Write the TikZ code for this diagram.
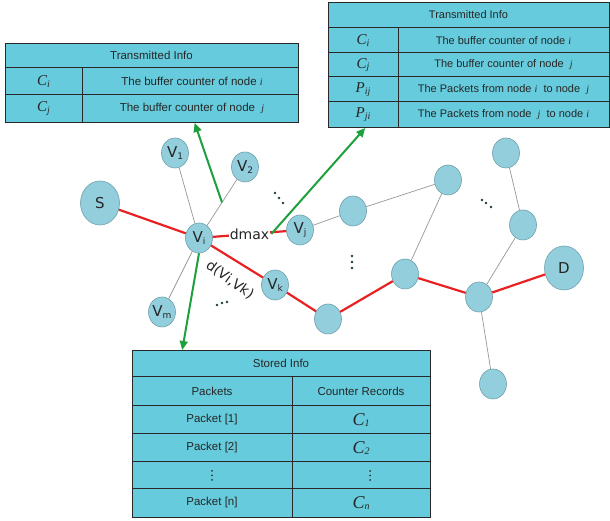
\documentclass[tikz,border=0pt]{standalone}
\usepackage{fontspec}
\setmainfont{Liberation Sans}
\newfontfamily\verd{DejaVu Sans}
\newfontfamily\tms{Liberation Serif}
\usetikzlibrary{shapes.geometric,arrows.meta,calc}
\definecolor{tabfill}{RGB}{102,204,221}
\definecolor{nodefill}{RGB}{146,206,220}
\definecolor{nodeborder}{RGB}{110,160,172}
\definecolor{edgegray}{RGB}{150,150,150}
\definecolor{edgered}{RGB}{232,34,34}
\definecolor{arrowgreen}{RGB}{30,160,60}
\definecolor{tabline}{RGB}{40,40,40}
\definecolor{dotcol}{RGB}{30,60,60}
\newcommand\mysubV[1]{V\raisebox{-2pt}{\fontsize{9}{9}\selectfont #1}}
\newcommand\mathCC[3]{{\tms\itshape\fontsize{#3}{#3}\selectfont #1\raisebox{-1.5pt}{\fontsize{10}{10}\selectfont #2}}}
\newcommand\itl[1]{{\tms\itshape\fontsize{10}{10}\selectfont #1}}
\tikzset{
  vtx/.style={ellipse, draw=nodeborder, fill=nodefill, minimum width=27pt, minimum height=30pt, inner sep=0pt, line width=0.6pt, font=\verd\fontsize{15}{15}\selectfont, text=black!85},
  bigvtx/.style={vtx, minimum width=39pt, minimum height=44pt},
  grayedge/.style={draw=edgegray, line width=0.7pt},
  rededge/.style={draw=edgered, line width=2.2pt},
  greenarrow/.style={draw=arrowgreen, line width=2pt, -{Triangle[length=9pt,width=8pt]}},
  tab/.style={rectangle, draw=tabline, fill=tabfill, line width=1pt, anchor=north west, inner sep=0pt},
  tabrule/.style={draw=tabline, line width=1pt},
  cell/.style={font=\fontsize{11.5}{13}\selectfont, inner sep=0pt, text=black!85},
  cellsm/.style={font=\fontsize{11}{13}\selectfont, inner sep=0pt, text=black!85},
  dotmark/.style={circle, fill=dotcol, inner sep=0pt, minimum size=2.6pt},
  tabdot/.style={circle, fill=black!80, inner sep=0pt, minimum size=2pt},
  lbl/.style={font=\verd\fontsize{14}{14}\selectfont, inner sep=1pt, text=black!85}
}
\begin{document}
\begin{tikzpicture}[x=1pt,y=1pt]
\useasboundingbox (0,0) rectangle (610,521);

% ---------- tables ----------
% left table
\node[tab, minimum width=293pt, minimum height=79pt] (tl) at (5,478) {};
\draw[tabrule] (5,453) -- (298,453);
\draw[tabrule] (5,426) -- (298,426);
\draw[tabrule] (82,453) -- (82,399);
\node[cell] (tlh) at (151.5,465.5) {Transmitted Info};
\node[cell] (tl1a) at (43.5,439.5) {\mathCC{C}{i}{15}};
\node[cell] (tl1b) at (192,439.5) {The buffer counter of node\ \itl{i}};
\node[cell] (tl2a) at (43.5,412.5) {\mathCC{C}{j}{15}};
\node[cell] (tl2b) at (192,412.5) {The buffer counter of node\ \ \itl{j}};

% right table
\node[tab, minimum width=281pt, minimum height=125pt] (tr) at (328,519) {};
\draw[tabrule] (328,493) -- (609,493);
\draw[tabrule] (328,468) -- (609,468);
\draw[tabrule] (328,444) -- (609,444);
\draw[tabrule] (328,419) -- (609,419);
\draw[tabrule] (398,493) -- (398,394);
\node[cellsm] (trh) at (468.5,506) {Transmitted Info};
\node[cellsm] (tr1a) at (363,480.5) {\mathCC{C}{i}{15}};
\node[cellsm] (tr1b) at (503.5,480.5) {The buffer counter of node\ \itl{i}};
\node[cellsm] (tr2a) at (363,456) {\mathCC{C}{j}{15}};
\node[cellsm] (tr2b) at (503.5,456) {The buffer counter of node\ \ \itl{j}};
\node[cellsm] (tr3a) at (363,431.5) {\mathCC{P}{ij}{15}};
\node[cellsm] (tr3b) at (503.5,431.5) {The Packets from node\ \itl{i}\ \ to node\ \ \itl{j}};
\node[cellsm] (tr4a) at (363,406.5) {\mathCC{P}{ji}{15}};
\node[cellsm] (tr4b) at (503.5,406.5) {The Packets from node\ \ \itl{j}\ \ to node\ \itl{i}};

% bottom table
\node[tab, minimum width=298pt, minimum height=167pt] (tb) at (132,171) {};
\draw[tabrule] (132,144) -- (430,144);
\draw[tabrule] (132,115) -- (430,115);
\draw[tabrule] (132,87) -- (430,87);
\draw[tabrule] (132,59) -- (430,59);
\draw[tabrule] (132,32) -- (430,32);
\draw[tabrule] (292,144) -- (292,4);
\node[cell] (tbh) at (281,157.5) {Stored Info};
\node[cell] (tb0a) at (212,129.5) {Packets};
\node[cell] (tb0b) at (361,129.5) {Counter Records};
\node[cell] (tb1a) at (212,101) {Packet [1]};
\node[cell] (tb1b) at (361,101) {\mathCC{C}{1}{18}};
\node[cell] (tb2a) at (212,73) {Packet [2]};
\node[cell] (tb2b) at (361,73) {\mathCC{C}{2}{18}};
\foreach \y [count=\k] in {50,45.5,41} {
  \node[tabdot] (tdl\k) at (212,\y) {};
  \node[tabdot] (tdr\k) at (370,\y) {};
}
\node[cell] (tb4a) at (212,18) {Packet [n]};
\node[cell] (tb4b) at (361,18) {\mathCC{C}{n}{18}};

% ---------- graph nodes ----------
\node[bigvtx] (S) at (100,318) {S};
\node[vtx] (V1) at (175,368) {\mysubV{1}};
\node[vtx] (V2) at (245,354) {\mysubV{2}};
\node[vtx] (Vi) at (199,283) {\mysubV{i}};
\node[vtx] (Vj) at (300,291) {\mysubV{j}};
\node[vtx] (Vk) at (275,236) {\mysubV{k}};
\node[vtx] (Vm) at (162,209) {\mysubV{m}};
\node[vtx] (n1) at (353,310) {};
\node[vtx] (n2) at (448,341) {};
\node[vtx] (n3) at (506,368) {};
\node[vtx] (n4) at (523,296) {};
\node[bigvtx] (D) at (564,253) {D};
\node[vtx] (n5) at (479,224) {};
\node[vtx] (n6) at (405,247) {};
\node[vtx] (n7) at (328,202) {};
\node[vtx] (n8) at (493,137) {};

% ---------- edges ----------
\draw[grayedge] (Vi) -- (V1);
\draw[grayedge] (Vi) -- (V2);
\draw[grayedge] (Vi) -- (Vm);
\draw[grayedge] (Vj) -- (n1);
\draw[grayedge] (n1) -- (n2);
\draw[grayedge] (n2) -- (n6);
\draw[grayedge] (n3) -- (n4);
\draw[grayedge] (n4) -- (n5);
\draw[grayedge] (n5) -- (n8);

\draw[rededge] (S) -- (Vi);
\draw[rededge] (Vi) -- node[lbl, fill=white, pos=0.5] (dmax) {dmax} (Vj);
\draw[rededge] (Vi) -- (Vk);
\draw[rededge] (Vk) -- (n7);
\draw[rededge] (n7) -- (n6);
\draw[rededge] (n6) -- (n5);
\draw[rededge] (n5) -- (D);

\node[lbl, rotate=-36] (dvk) at (230,241) {d(Vi,Vk)};

% ---------- green arrows ----------
\draw[greenarrow] ($(Vi)!0.5!(V2)$) -- ($(tl.south west)!0.645!(tl.south east)$);
\draw[greenarrow] (dmax.east) -- ($(tr.south west)!0.132!(tr.south east)$);
\draw[greenarrow] (Vi.south) -- ($(tb.north west)!0.168!(tb.north east)$);

% ---------- ellipsis dots ----------
\foreach \x/\y [count=\k] in {275/328, 279/323, 283/318} \node[dotmark] (da\k) at (\x,\y) {};
\foreach \x/\y [count=\k] in {217/216, 222/218, 227/219} \node[dotmark] (db\k) at (\x,\y) {};
\foreach \x/\y [count=\k] in {352/265, 352/259, 352/253} \node[dotmark] (dc\k) at (\x,\y) {};
\foreach \x/\y [count=\k] in {482/321, 486/318, 491/314} \node[dotmark] (dd\k) at (\x,\y) {};
\end{tikzpicture}
\end{document}
